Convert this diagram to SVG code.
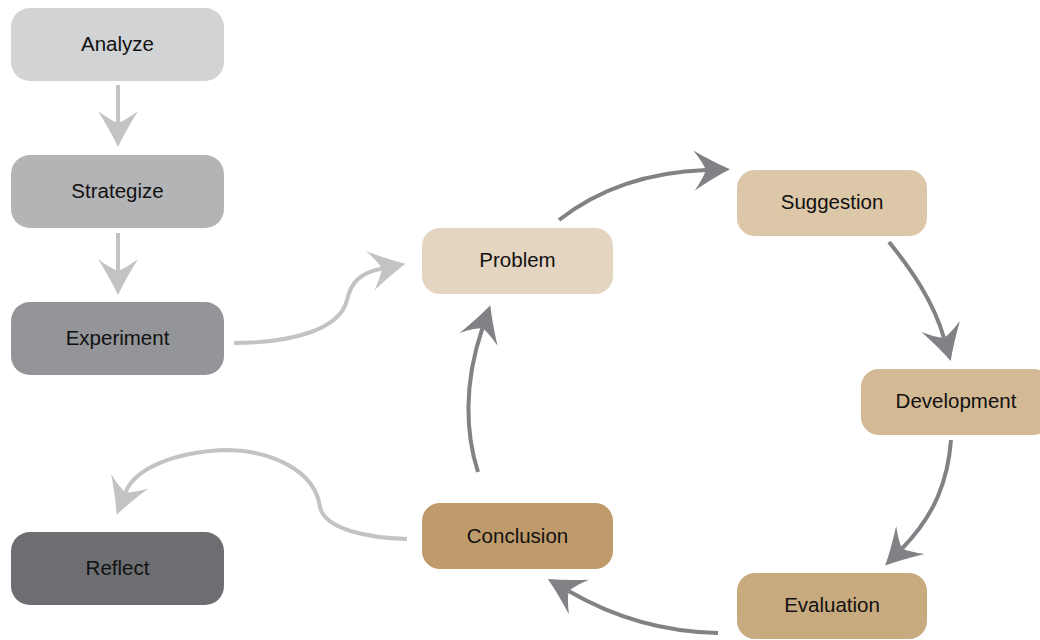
<svg xmlns="http://www.w3.org/2000/svg" width="1040" height="640" viewBox="0 0 1040 640">
  <style>
    .box { stroke: none; }
    .label { font-family: "Liberation Sans", Arial, sans-serif; font-size: 20.5px; fill: #111111; text-anchor: middle; dominant-baseline: central; }
    .dark { fill: none; stroke: #808285; stroke-width: 4; }
    .light { fill: none; stroke: #c2c3c5; stroke-width: 4; }
  </style>
  <defs>
    <!-- stealth-style heads; reference point is the notch where the line meets the head -->
    <marker id="headDark" markerUnits="userSpaceOnUse" viewBox="-38 -22 40 44" refX="-24" refY="0" markerWidth="40" markerHeight="44" orient="auto">
      <path d="M0,0 Q-16,-7.5 -36,-20 Q-27,-8 -24,0 Q-27,8 -36,20 Q-16,7.5 0,0 Z" fill="#808285"/>
    </marker>
    <marker id="headLight" markerUnits="userSpaceOnUse" viewBox="-38 -22 40 44" refX="-24" refY="0" markerWidth="40" markerHeight="44" orient="auto">
      <path d="M0,0 Q-16,-7.5 -36,-20 Q-27,-8 -24,0 Q-27,8 -36,20 Q-16,7.5 0,0 Z" fill="#c2c3c5"/>
    </marker>
  </defs>

  <g id="connectors">
    <path class="light" d="M118,85 L118,123" marker-end="url(#headLight)"/>
    <path class="light" d="M118,233 L118,271" marker-end="url(#headLight)"/>
    <path class="light" d="M234,343 C290,343 340,330 347,300 C351,282 360,273 382,268.5" marker-end="url(#headLight)"/>
    <path class="dark" d="M559,220 C600,188 650,172 706,170" marker-end="url(#headDark)"/>
    <path class="dark" d="M889,242 C910,268 933,300 944,338" marker-end="url(#headDark)"/>
    <path class="dark" d="M951,440 C948,480 935,515 902,548.5" marker-end="url(#headDark)"/>
    <path class="dark" d="M718,633 C665,632 615,618 568.6,591" marker-end="url(#headDark)"/>
    <path class="dark" d="M478,472 C466,435 463,385 482.5,328" marker-end="url(#headDark)"/>
    <path class="light" d="M407,539 C370,538 325,530 320,507 C315,470 270,450 225,450 C175,452 135,468 125.4,492.5" marker-end="url(#headLight)"/>
  </g>

  <g id="analyze">
    <rect class="box" x="11" y="8" width="213" height="73" rx="19" fill="#d1d3d4"/>
    <text class="label" x="117.5" y="43">Analyze</text>
  </g>
  <g id="strategize">
    <rect class="box" x="11" y="155" width="213" height="73" rx="19" fill="#b3b4b6"/>
    <text class="label" x="117.5" y="190">Strategize</text>
  </g>
  <g id="experiment">
    <rect class="box" x="11" y="302" width="213" height="73" rx="19" fill="#939598"/>
    <text class="label" x="117.5" y="337">Experiment</text>
  </g>
  <g id="reflect">
    <rect class="box" x="11" y="532" width="213" height="73" rx="19" fill="#6d6e71"/>
    <text class="label" x="117.5" y="567">Reflect</text>
  </g>

  <g id="problem">
    <rect class="box" x="422" y="228" width="191" height="66" rx="18" fill="#e4d5c0"/>
    <text class="label" x="517.5" y="259.5">Problem</text>
  </g>
  <g id="suggestion">
    <rect class="box" x="737" y="170" width="190" height="66" rx="18" fill="#dcc7a8"/>
    <text class="label" x="832" y="201.5">Suggestion</text>
  </g>
  <g id="development">
    <rect class="box" x="861" y="369" width="190" height="66" rx="18" fill="#d3b994"/>
    <text class="label" x="956" y="400.5">Development</text>
  </g>
  <g id="evaluation">
    <rect class="box" x="737" y="573" width="190" height="66" rx="18" fill="#c8aa7f"/>
    <text class="label" x="832" y="604.5">Evaluation</text>
  </g>
  <g id="conclusion">
    <rect class="box" x="422" y="503" width="191" height="66" rx="18" fill="#bf9b6b"/>
    <text class="label" x="517.5" y="535.5">Conclusion</text>
  </g>
</svg>
